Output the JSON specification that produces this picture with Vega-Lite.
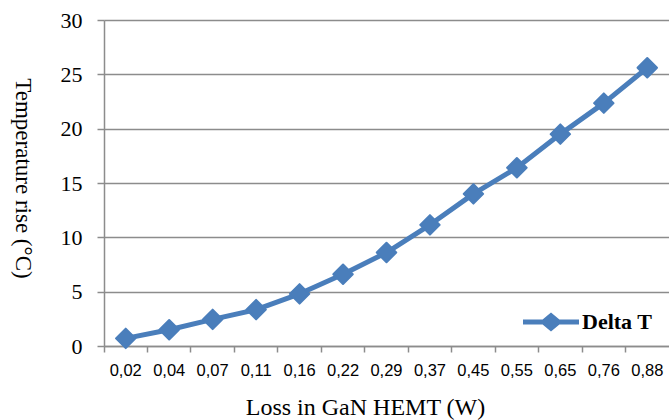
{
  "$schema": "https://vega.github.io/schema/vega-lite/v6.json",
  "width": 565,
  "height": 326,
  "autosize": {"type": "none"},
  "padding": {"left": 104, "top": 20, "right": 0, "bottom": 74},
  "background": "white",
  "config": {"view": {"stroke": null}},
  "data": {
    "values": [
      {"loss": "0,02", "dt": 0.7, "series": "Delta T"},
      {"loss": "0,04", "dt": 1.5, "series": "Delta T"},
      {"loss": "0,07", "dt": 2.45, "series": "Delta T"},
      {"loss": "0,11", "dt": 3.35, "series": "Delta T"},
      {"loss": "0,16", "dt": 4.8, "series": "Delta T"},
      {"loss": "0,22", "dt": 6.6, "series": "Delta T"},
      {"loss": "0,29", "dt": 8.6, "series": "Delta T"},
      {"loss": "0,37", "dt": 11.15, "series": "Delta T"},
      {"loss": "0,45", "dt": 14.0, "series": "Delta T"},
      {"loss": "0,55", "dt": 16.4, "series": "Delta T"},
      {"loss": "0,65", "dt": 19.5, "series": "Delta T"},
      {"loss": "0,76", "dt": 22.35, "series": "Delta T"},
      {"loss": "0,88", "dt": 25.6, "series": "Delta T"}
    ]
  },
  "encoding": {
    "y": {
      "field": "dt",
      "type": "quantitative",
      "scale": {"domain": [0, 30], "nice": false, "zero": true},
      "axis": {
        "values": [0, 5, 10, 15, 20, 25, 30],
        "grid": true,
        "gridColor": "#8c8c8c",
        "gridWidth": 1.5,
        "domainColor": "#8c8c8c",
        "domainWidth": 1.5,
        "ticks": true,
        "tickSize": 7,
        "tickColor": "#8c8c8c",
        "tickWidth": 1.5,
        "labelFont": "Liberation Serif",
        "labelFontSize": 22,
        "labelColor": "#000000",
        "labelPadding": 15,
        "title": "Temperature rise (°C)",
        "titleFont": "Liberation Serif",
        "titleFontSize": 23,
        "titleFontWeight": "normal",
        "titleColor": "#000000",
        "titleAngle": 90,
        "titleX": -82,
        "titleY": 158,
        "titleAlign": "center",
        "titleBaseline": "middle"
      }
    }
  },
  "layer": [
    {
      "mark": {"type": "line", "strokeWidth": 5, "strokeJoin": "round"},
      "encoding": {
        "x": {
          "field": "loss",
          "type": "ordinal",
          "sort": null,
          "bandPosition": 0.5,
          "scale": {"type": "band", "paddingInner": 0, "paddingOuter": 0},
          "axis": {
            "orient": "bottom",
            "domain": false,
            "ticks": false,
            "tickSize": 0,
            "grid": false,
            "labelAngle": 0,
            "labelFont": "Liberation Sans",
            "labelFontSize": 16.5,
            "labelColor": "#000000",
            "labelPadding": 16,
            "title": "Loss in GaN HEMT (W)",
            "titleFont": "Liberation Serif",
            "titleFontSize": 24,
            "titleFontWeight": "normal",
            "titleColor": "#000000",
            "titleX": 261,
            "titleY": 61,
            "titleAlign": "center",
            "titleBaseline": "middle"
          }
        },
        "color": {
          "field": "series",
          "type": "nominal",
          "scale": {"range": ["#4A7EBB"]},
          "legend": {
            "orient": "none",
            "legendX": 419,
            "legendY": 274,
            "title": null,
            "padding": 0,
            "symbolType": "M-1,-0.09L-0.3,-0.09L0,-0.34L0.3,-0.09L1,-0.09L1,0.09L0.3,0.09L0,0.34L-0.3,0.09L-1,0.09Z",
            "symbolSize": 3136,
            "symbolFillColor": "#4A7EBB",
            "symbolStrokeColor": "#4A7EBB",
            "symbolStrokeWidth": 0,
            "symbolOpacity": 1,
            "labelFont": "Liberation Serif",
            "labelFontSize": 22,
            "labelFontWeight": "bold",
            "labelColor": "#000000",
            "labelOffset": 3
          }
        }
      }
    },
    {
      "mark": {"type": "point", "shape": "diamond", "filled": true, "size": 380, "opacity": 1, "color": "#4A7EBB", "stroke": "#4A7EBB", "strokeWidth": 2, "strokeJoin": "round"},
      "encoding": {
        "x": {
          "field": "loss",
          "type": "ordinal",
          "sort": null,
          "bandPosition": 0.5,
          "scale": {"type": "band", "paddingInner": 0, "paddingOuter": 0},
          "axis": {
            "orient": "bottom",
            "domain": true,
            "domainColor": "#8c8c8c",
            "domainWidth": 1.5,
            "ticks": true,
            "bandPosition": 0,
            "tickSize": 6,
            "tickColor": "#8c8c8c",
            "tickWidth": 1.5,
            "grid": false,
            "labels": false,
            "title": null
          }
        }
      }
    }
  ],
  "resolve": {"axis": {"x": "independent"}}
}
